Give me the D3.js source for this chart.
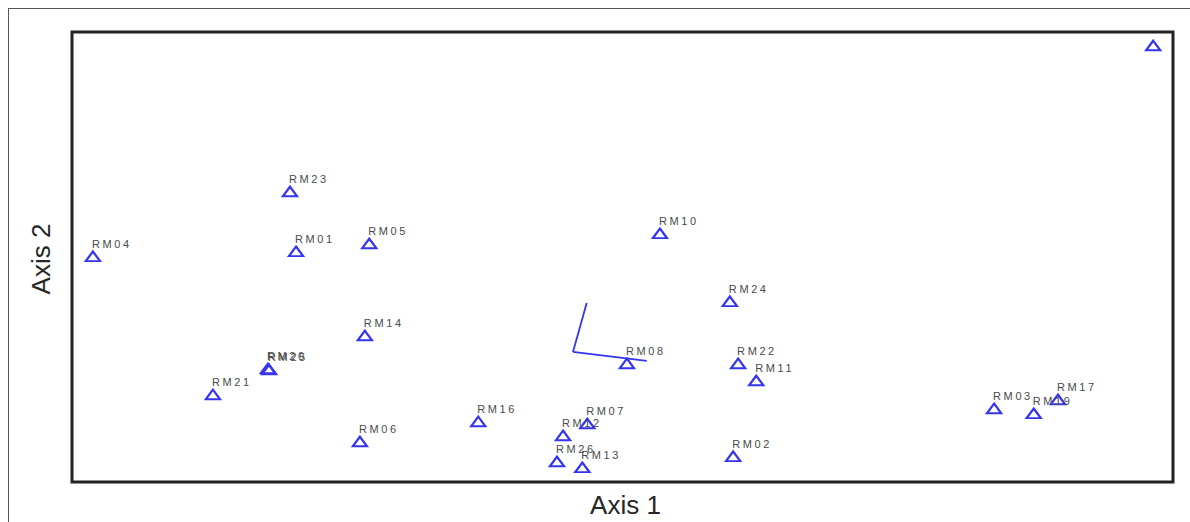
<!DOCTYPE html>
<html>
<head>
<meta charset="utf-8">
<script src="https://cdn.jsdelivr.net/npm/d3@7/dist/d3.min.js"></script>
<style>
  html, body { margin: 0; padding: 0; background: #fff; }
  svg { display: block; }
</style>
</head>
<body>
<svg id="chart" width="1190" height="522"></svg>
<script>
// Ordination scores of the sampling sites (Axis 1, Axis 2)
const sites = ["RM04","RM23","RM01","RM05","RM14","RM20","RM25","RM21","RM06","RM16",
               "RM07","RM12","RM26","RM13","RM08","RM10","RM24","RM22","RM11","RM02",
               "RM03","RM19","RM17",""];
const axis1 = [-0.962,-0.604,-0.593,-0.460,-0.468,-0.644,-0.642,-0.744,-0.477,-0.262,
               -0.064,-0.108,-0.119,-0.073,0.008,0.068,0.195,0.210,0.243,0.201,
               0.675,0.747,0.791,0.964];
const axis2 = [-0.004,0.284,0.018,0.053,-0.356,-0.502,-0.507,-0.618,-0.827,-0.738,
               -0.747,-0.800,-0.916,-0.942,-0.480,0.098,-0.204,-0.480,-0.556,-0.893,
               -0.680,-0.702,-0.640,0.933];

// Biplot vectors drawn from a common origin
const vectorOrigin = [-0.090, -0.422];
const vectorEndX = [-0.065, 0.044];
const vectorEndY = [-0.204, -0.462];

const axisTitles = ["Axis 1", "Axis 2"];

const svg = d3.select("#chart");
const W = 1190, H = 522;
const box = { left: 72, top: 32, right: 1173, bottom: 482 };

const x = d3.scaleLinear().domain([-1, 1]).range([box.left, box.right]);
const y = d3.scaleLinear().domain([-1, 1]).range([box.bottom, box.top]);

// outer frame
svg.append("rect")
  .attr("x", 8.5).attr("y", 8.5)
  .attr("width", W + 20).attr("height", H + 20)
  .attr("fill", "none").attr("stroke", "#555").attr("stroke-width", 1);

// plot box
svg.append("rect")
  .attr("x", box.left).attr("y", box.top)
  .attr("width", box.right - box.left).attr("height", box.bottom - box.top)
  .attr("fill", "#fff").attr("stroke", "#222").attr("stroke-width", 3);

const blue = "#3535f0";

// vectors
const vg = svg.append("g");
vectorEndX.forEach((ex, i) => {
  vg.append("line")
    .attr("x1", x(vectorOrigin[0])).attr("y1", y(vectorOrigin[1]))
    .attr("x2", x(ex)).attr("y2", y(vectorEndY[i]))
    .attr("stroke", blue).attr("stroke-width", 1.8);
});

// site points
const pts = sites.map((s, i) => ({ name: s, a1: axis1[i], a2: axis2[i] }));
const tri = d3.symbol().type(d3.symbolTriangle).size(66);

const pg = svg.append("g");
pg.selectAll("path.site")
  .data(pts)
  .join("path")
  .attr("class", "site")
  .attr("d", tri)
  .attr("transform", d => `translate(${x(d.a1)},${y(d.a2)}) scale(1.15,0.9)`)
  .attr("fill", "none")
  .attr("stroke", blue)
  .attr("stroke-width", 2.1);

pg.selectAll("text.lab")
  .data(pts.filter(d => d.name))
  .join("text")
  .attr("class", "lab")
  .attr("x", d => x(d.a1) - 1)
  .attr("y", d => y(d.a2) - 10)
  .attr("font-family", "Liberation Sans, Arial, sans-serif")
  .attr("font-size", 11)
  .attr("letter-spacing", 2.6)
  .attr("fill", "#4a4a4a")
  .text(d => d.name);

// axis titles
svg.append("text")
  .attr("x", (box.left + box.right) / 2 + 3)
  .attr("y", 514)
  .attr("text-anchor", "middle")
  .attr("font-family", "Liberation Sans, Arial, sans-serif")
  .attr("font-size", 26)
  .attr("fill", "#262626")
  .text(axisTitles[0]);

svg.append("text")
  .attr("transform", `translate(50, ${(box.top + box.bottom) / 2 + 2}) rotate(-90)`)
  .attr("text-anchor", "middle")
  .attr("font-family", "Liberation Sans, Arial, sans-serif")
  .attr("font-size", 26)
  .attr("fill", "#262626")
  .text(axisTitles[1]);
</script>
</body>
</html>
